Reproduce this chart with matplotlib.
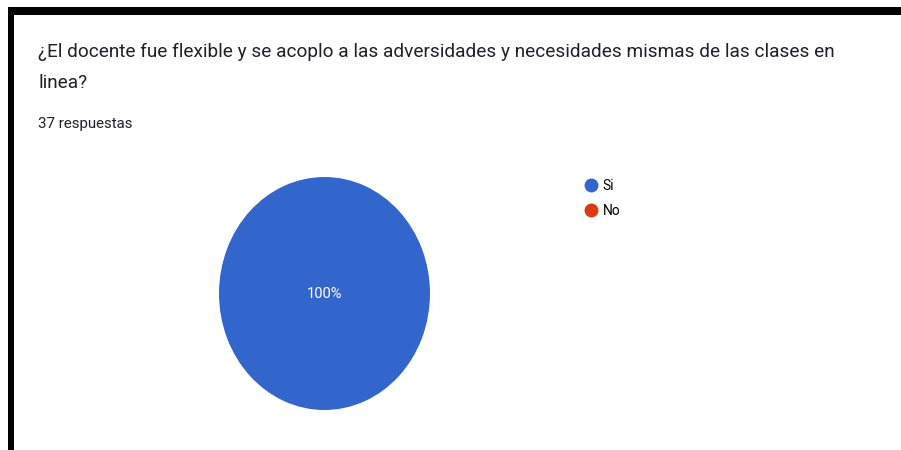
import matplotlib
matplotlib.use('Agg')
import matplotlib.pyplot as plt
from matplotlib.patches import Rectangle
from matplotlib.lines import Line2D

# survey data
labels = ['Si', 'No']
counts = [37, 0]
colors = ['#3366cc', '#dc3912']
title_line1 = '¿El docente fue flexible y se acoplo a las adversidades y necesidades mismas de las clases en'
title_line2 = 'linea?'
subtitle = '37 respuestas'

W, H = 901, 450
plt.rcParams['font.family'] = ['Roboto', 'DejaVu Sans']
fig = plt.figure(figsize=(W / 100, H / 100), dpi=100)
fig.patch.set_facecolor('white')

def px(x, y):
    # pixel coords (top-left origin) -> figure fraction
    return x / W, 1 - y / H

# black frame (top and left edges of the screenshot)
fig.patches.append(Rectangle(px(8, 15), (W - 8) / W, 8 / H, transform=fig.transFigure,
                             facecolor='black', edgecolor='none'))
fig.patches.append(Rectangle(px(8, H), 6 / W, (H - 7) / H, transform=fig.transFigure,
                             facecolor='black', edgecolor='none'))

# titles
fig.text(*px(38, 57), title_line1, fontsize=13.7, color='#202124', va='baseline', ha='left')
fig.text(*px(38, 88), title_line2, fontsize=13.7, color='#202124', va='baseline', ha='left')
fig.text(*px(38, 128), subtitle, fontsize=10.8, color='#202124', va='baseline', ha='left')

# pie (stretched into an ellipse like the screenshot)
ax = fig.add_axes([219 / W, (H - 410) / H, 211 / W, 233 / H])
ax.pie(counts, colors=colors, startangle=90, counterclock=False, radius=1,
       autopct=lambda p: f'{p:.0f}%' if p > 0 else '', pctdistance=0,
       textprops=dict(color='white', fontsize=10.5),
       wedgeprops=dict(linewidth=0))
ax.set_xlim(-1, 1)
ax.set_ylim(-1, 1)
ax.set_aspect('auto')
ax.axis('off')

# legend
handles = [Line2D([], [], marker='o', linestyle='none', markersize=9,
                  markerfacecolor=c, markeredgecolor=c) for c in colors]
fig.legend(handles, labels, loc='upper left', bbox_to_anchor=px(577, 173),
           frameon=False, fontsize=10, handletextpad=0.25, labelspacing=0.85,
           handlelength=1.2, borderaxespad=0)

fig.savefig('out.png', dpi=100)
